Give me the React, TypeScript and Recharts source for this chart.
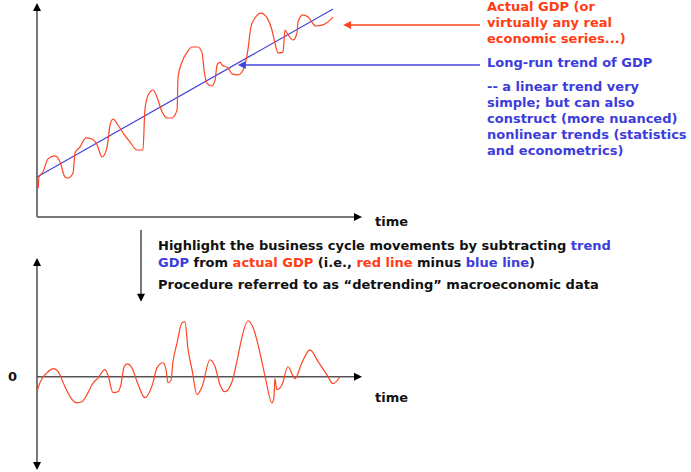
import React from 'react';
import { LineChart, Line, XAxis, YAxis, ReferenceLine, ReferenceDot } from 'recharts';

// Top panel: actual GDP (arbitrary units) over time (0..100)
const gdpTime = [0.4, 0.6, 1.8, 3.4, 5.5, 7.1, 8.6, 9.5, 11.1, 11.7, 13.2, 15.1, 16.9, 18.5, 20.0, 21.5, 22.5, 23.4, 24.9, 26.5, 28.6, 30.8, 32.6, 33.2, 34.2, 35.7, 36.9, 38.5, 40.0, 41.5, 43.1, 43.4, 44.6, 46.2, 47.7, 49.5, 50.8, 51.4, 52.3, 53.8, 54.8, 55.4, 56.3, 56.9, 58.8, 60.0, 61.8, 63.4, 64.9, 65.8, 67.1, 68.9, 70.8, 72.3, 73.2, 74.2, 75.7, 76.3, 76.9, 78.8, 80.0, 80.3, 81.8, 83.4, 85.8, 88.0, 91.1];
const gdpValues = [13.7, 18.9, 21.2, 27.4, 28.8, 25.9, 18.9, 18.4, 20.8, 30.2, 33.0, 37.3, 36.8, 34.0, 28.3, 32.5, 43.4, 46.2, 43.4, 39.6, 35.4, 31.6, 31.6, 50.5, 57.5, 59.9, 56.6, 49.5, 46.7, 46.7, 50.5, 66.0, 73.1, 77.8, 80.2, 80.2, 77.4, 69.3, 63.2, 61.8, 64.6, 71.7, 73.1, 71.7, 70.3, 67.5, 67.0, 69.3, 78.8, 89.6, 93.9, 96.2, 93.9, 88.2, 82.1, 77.4, 77.8, 88.2, 86.8, 83.5, 86.8, 92.0, 95.3, 94.3, 90.1, 90.6, 94.3];

// Linear trend
const trendTime = [0, 91.1];
const trendValues = [18.9, 98.1];

// Bottom panel: detrended series (actual minus trend)
const cycleTime = [0, 0.9, 3.1, 5.2, 6.5, 8.6, 10.8, 12.3, 13.8, 15.7, 16.9, 18.8, 20.9, 21.8, 23.4, 24.9, 25.8, 26.8, 27.7, 29.2, 30.8, 33.2, 35.7, 36.9, 38.8, 39.7, 40.3, 41.2, 41.8, 43.1, 44.6, 45.5, 46.5, 47.7, 49.2, 50.8, 53.2, 54.8, 56.3, 57.8, 60.0, 61.8, 63.1, 64.9, 66.5, 68.6, 70.2, 72.3, 72.9, 73.2, 73.8, 75.4, 77.2, 79.4, 81.5, 84.0, 86.5, 89.2, 91.1, 93.2];
const cycleValues = [-7.1, -2.8, 1.9, 3.8, 2.4, -4.7, -10.8, -12.3, -11.8, -7.5, -3.8, -0.5, 3.3, 0.9, -7.5, -7.1, -3.8, 4.7, 6.1, 4.2, -2.4, -9.9, -2.8, 4.2, 6.6, 3.3, -2.8, -1.9, 6.6, 16.0, 25.5, 25.9, 12.7, 3.3, -8.5, -4.7, 8.0, 4.7, -3.8, -7.1, -2.4, 9.4, 18.9, 26.4, 23.1, 11.3, 0, -12.3, -9.9, -0.9, -6.1, -3.8, 4.7, -0.9, 6.6, 12.7, 7.1, 0.9, -3.3, 0];

const topData = gdpTime.map((t, i) => ({ t, v: gdpValues[i] }));
const trendData = trendTime.map((t, i) => ({ t, v: trendValues[i] }));
const cycleData = cycleTime.map((t, i) => ({ t, v: cycleValues[i] }));

const RED = '#ff4422';
const BLUE = '#4444dd';
const RED_TEXT = '#ff3c14';
const BLUE_TEXT = '#3c3cdc';
const AXIS = '#777777';

type Dir = 'up' | 'down' | 'left' | 'right';
const arrowShape = (dir: Dir, color: string, len = 8, half = 4) => (p: any) => {
  const { cx, cy } = p;
  let pts = '';
  if (dir === 'up') pts = `${cx},${cy} ${cx - half},${cy + len} ${cx + half},${cy + len}`;
  if (dir === 'down') pts = `${cx},${cy} ${cx - half},${cy - len} ${cx + half},${cy - len}`;
  if (dir === 'left') pts = `${cx},${cy} ${cx + len},${cy - half} ${cx + len},${cy + half}`;
  if (dir === 'right') pts = `${cx},${cy} ${cx - len},${cy - half} ${cx - len},${cy + half}`;
  return <polygon points={pts} fill={color} stroke="none" />;
};

const font = '"DejaVu Sans", Verdana, sans-serif';
const textBase: React.CSSProperties = {
  position: 'absolute',
  fontFamily: font,
  fontWeight: 'bold',
  fontSize: 13,
  lineHeight: '16px',
  whiteSpace: 'nowrap',
  color: '#111',
};

export default function App() {
  return (
    <div style={{ position: 'absolute', left: 0, top: 0, width: 691, height: 472, background: '#fff', overflow: 'hidden' }}>
      <div style={{ position: 'absolute', left: 0, top: 0 }}>
        <LineChart width={691} height={230} data={topData} margin={{ top: 5, right: 329, bottom: 13, left: 37 }}>
          <XAxis dataKey="t" type="number" domain={[0, 100]} hide />
          <YAxis type="number" domain={[0, 100]} hide />
          <ReferenceLine segment={[{ x: 0, y: 0 }, { x: 0, y: 99 }]} stroke={AXIS} strokeWidth={2} ifOverflow="visible" />
          <ReferenceLine segment={[{ x: 0, y: 0 }, { x: 98, y: 0 }]} stroke={AXIS} strokeWidth={2} ifOverflow="visible" />
          <ReferenceDot x={0} y={101} ifOverflow="visible" shape={arrowShape('up', '#000')} />
          <ReferenceDot x={100} y={0} ifOverflow="visible" shape={arrowShape('right', '#000')} />
          <Line data={trendData} dataKey="v" type="linear" stroke={BLUE} strokeWidth={1.2} dot={false} activeDot={false} isAnimationActive={false} />
          <Line dataKey="v" type="monotone" stroke={RED} strokeWidth={1.2} dot={false} activeDot={false} isAnimationActive={false} />
          <ReferenceLine segment={[{ x: 96, y: 90.6 }, { x: 136.3, y: 90.6 }]} stroke={RED} strokeWidth={1.5} ifOverflow="visible" />
          <ReferenceDot x={94.2} y={90.6} ifOverflow="visible" shape={arrowShape('left', RED, 8, 4)} />
          <ReferenceLine segment={[{ x: 63.5, y: 71.7 }, { x: 136.3, y: 71.7 }]} stroke={BLUE} strokeWidth={1.5} ifOverflow="visible" />
          <ReferenceDot x={61.8} y={71.7} ifOverflow="visible" shape={arrowShape('left', BLUE, 8, 4)} />
        </LineChart>
      </div>
      <div style={{ position: 'absolute', left: 0, top: 230 }}>
        <LineChart width={691} height={242} data={cycleData} margin={{ top: 28, right: 329, bottom: 2, left: 37 }}>
          <XAxis dataKey="t" type="number" domain={[0, 100]} hide />
          <YAxis type="number" domain={[-44, 56]} hide />
          <ReferenceLine segment={[{ x: 0, y: -42 }, { x: 0, y: 54 }]} stroke={AXIS} strokeWidth={2} ifOverflow="visible" />
          <ReferenceLine segment={[{ x: 0, y: 0 }, { x: 98, y: 0 }]} stroke="#555" strokeWidth={1.5} ifOverflow="visible" />
          <ReferenceDot x={0} y={56} ifOverflow="visible" shape={arrowShape('up', '#000')} />
          <ReferenceDot x={0} y={-44} ifOverflow="visible" shape={arrowShape('down', '#000')} />
          <ReferenceDot x={100} y={0} ifOverflow="visible" shape={arrowShape('right', '#000')} />
          <ReferenceLine segment={[{ x: 32, y: 69.3 }, { x: 32, y: 37.5 }]} stroke={AXIS} strokeWidth={2} ifOverflow="visible" />
          <ReferenceDot x={32} y={35.4} ifOverflow="visible" shape={arrowShape('down', '#000')} />
          <Line dataKey="v" type="monotone" stroke={RED} strokeWidth={1.2} dot={false} activeDot={false} isAnimationActive={false} />
        </LineChart>
      </div>

      <div style={{ ...textBase, left: 487, top: -1, color: RED_TEXT }}>
        Actual GDP (or<br />virtually any real<br />economic series...)
      </div>
      <div style={{ ...textBase, left: 487, top: 55, color: BLUE_TEXT }}>Long-run trend of GDP</div>
      <div style={{ ...textBase, left: 487, top: 79, color: BLUE_TEXT }}>
        -- a linear trend very<br />simple; but can also<br />construct (more nuanced)<br />nonlinear trends (statistics<br />and econometrics)
      </div>
      <div style={{ ...textBase, left: 375, top: 214 }}>time</div>
      <div style={{ ...textBase, left: 158, top: 237, lineHeight: '17px' }}>
        Highlight the business cycle movements by subtracting <span style={{ color: BLUE_TEXT }}>trend</span>
        <br />
        <span style={{ color: BLUE_TEXT }}>GDP</span> from <span style={{ color: RED_TEXT }}>actual GDP</span> (i.e.,{' '}
        <span style={{ color: RED_TEXT }}>red line</span> minus <span style={{ color: BLUE_TEXT }}>blue line</span>)
      </div>
      <div style={{ ...textBase, left: 158, top: 277 }}>
        Procedure referred to as “detrending” macroeconomic data
      </div>
      <div style={{ ...textBase, left: 8, top: 369 }}>0</div>
      <div style={{ ...textBase, left: 375, top: 390 }}>time</div>
    </div>
  );
}
